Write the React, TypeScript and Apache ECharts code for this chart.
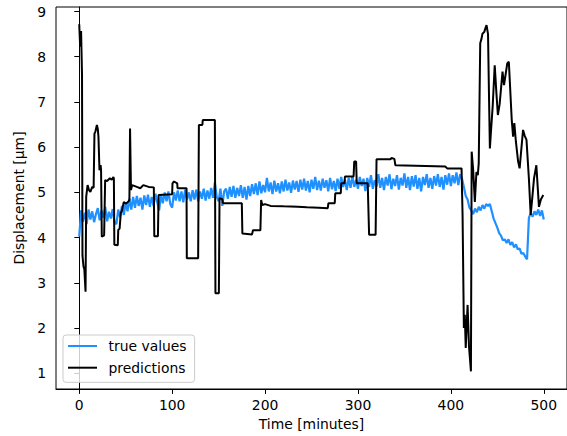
import React, { useEffect, useRef } from "react";
import * as echarts from "echarts";

// true values, sampled every 2 minutes from t = 0 to t = 500
const trueStep = 2;
const trueValues: number[] = [
  4.02, 4.6, 4.35, 4.55, 4.3, 4.62, 4.4, 4.58, 4.34, 4.52,
  4.65, 4.38, 4.6, 4.44, 4.68, 4.36, 4.57, 4.42, 4.63, 4.33,
  4.3, 4.62, 4.45, 4.7, 4.5, 4.78, 4.58, 4.86, 4.62, 4.9,
  4.66, 4.92, 4.7, 4.88, 4.62, 4.93, 4.72, 4.95, 4.68, 4.9,
  4.7, 4.97, 4.78, 4.6, 4.95, 4.76, 5.0, 4.8, 5.02, 4.74,
  4.66, 5.0, 4.82, 5.04, 4.8, 5.02, 4.78, 5.06, 4.84, 5.0,
  4.8, 5.05, 4.84, 5.06, 4.8, 5.02, 4.86, 5.08, 4.82, 5.04,
  4.86, 5.1, 4.88, 5.22, 4.9, 4.8, 5.08, 4.7, 5.02, 5.08,
  4.86, 5.12, 4.9, 5.14, 4.88, 5.1, 4.92, 5.16, 4.88, 5.12,
  4.84, 5.14, 4.92, 5.18, 4.96, 5.2, 4.94, 5.24, 4.98, 5.16,
  5.0, 5.32, 5.02, 5.22, 4.96, 5.26, 5.02, 5.2, 4.98, 5.24,
  5.02, 5.28, 5.04, 5.22, 4.99, 5.26, 5.06, 5.25, 5.01, 5.28,
  5.06, 5.3, 5.04, 5.25, 5.0, 5.28, 5.08, 5.34, 5.05, 5.26,
  5.04, 5.3, 5.1, 5.27, 5.02, 5.32, 5.07, 5.25, 5.03, 5.3,
  5.08, 5.34, 5.12, 5.28, 5.05, 5.32, 5.1, 5.36, 5.12, 5.28,
  5.08, 5.34, 5.14, 5.3, 5.03, 5.32, 5.12, 5.38, 5.08, 5.27,
  5.13, 5.4, 5.1, 5.32, 5.05, 5.34, 5.15, 5.4, 5.07, 5.3,
  5.14, 5.38, 5.06, 5.32, 5.15, 5.42, 5.1, 5.34, 5.05, 5.36,
  5.13, 5.38, 5.08, 5.32, 5.02, 5.34, 5.16, 5.4, 5.1, 5.32,
  5.08, 5.36, 5.15, 5.4, 5.12, 5.34, 5.06, 5.38, 5.17, 5.42,
  5.14, 5.38, 5.2, 5.44, 5.16, 5.4, 5.3, 5.12, 4.92, 4.84,
  4.66, 4.6, 4.52, 4.64, 4.56, 4.68, 4.6, 4.72, 4.64, 4.74,
  4.7, 4.74, 4.58, 4.42, 4.32, 4.22, 4.1, 4.04, 3.94, 3.96,
  3.88, 3.96, 3.84, 3.9, 3.78, 3.85, 3.74, 3.76, 3.64, 3.66,
  3.58, 3.52, 4.44, 4.54, 4.46, 4.58, 4.5, 4.62, 4.48, 4.6,
  4.4,
];

// predictions (time in minutes, value in µm)
const predTimes: number[] = [
  0, 1, 2, 3, 3.5, 4.6, 5.5, 6.8, 7.5, 9, 10.5, 12, 14, 15.5, 16.4, 17.5, 19, 20, 20.7, 21.8,
  23, 23.5, 24.3, 26.8, 27.9, 30, 33, 35, 36.8, 37.3, 37.8, 41.5, 42, 43.5, 44.7, 46, 48, 50, 51, 53,
  54, 54.7, 55.7, 57, 62, 65.7, 69, 74.7, 80.3, 80.8, 84.7, 85.4, 100, 100.4, 102, 105.5, 105.8, 115.5, 115.8, 128,
  128.8, 132.5, 133, 146, 146.6, 150.3, 151, 154, 154.7, 175, 175.6, 186, 187, 195, 195.8, 197, 200, 206, 220, 235,
  245, 258, 267.5, 268.2, 275, 275.6, 281.5, 282, 285.5, 286, 295.3, 296, 298, 298.7, 310.5, 312, 319, 320, 335, 336,
  339.2, 340.3, 394, 396, 411.5, 412.6, 414, 415, 416, 418, 419.5, 421.6, 422.4, 424, 425.8, 427.5, 429, 430, 431.6, 433,
  434, 436, 437, 438.4, 440, 441, 442, 443, 445, 447.2, 449, 450.6, 452.5, 455.6, 457.2, 460.7, 462.4, 465.5, 467, 468.3,
  470, 472.4, 474, 477.7, 479.5, 481.4, 484, 485.9, 487.5, 489.5, 492, 494.8, 497, 499.5,
];
const predValues: number[] = [
  8.72, 8.22, 8.57, 7.6, 3.6, 3.36, 3.3, 2.8, 4.9, 5.16, 5.05, 5.01, 5.12, 5.1, 6.3, 6.35, 6.49, 6.4, 6.23, 5.49,
  5.6, 5.5, 4.02, 4.05, 5.27, 5.25, 5.31, 5.28, 5.34, 5.3, 3.84, 3.83, 4.17, 4.2, 4.54, 4.6, 4.79, 4.75, 4.76, 4.8,
  4.83, 6.41, 5.05, 5.16, 5.12, 5.09, 5.16, 5.12, 5.11, 4.03, 4.03, 4.94, 4.96, 5.2, 5.24, 5.2, 5.09, 5.09, 3.54, 3.54,
  6.49, 6.49, 6.6, 6.6, 2.77, 2.77, 4.87, 4.85, 4.76, 4.76, 4.09, 4.07, 4.16, 4.16, 4.83, 4.72, 4.74, 4.7, 4.69, 4.68,
  4.67, 4.66, 4.65, 4.76, 4.76, 4.98, 4.98, 5.2, 5.2, 5.35, 5.35, 5.68, 5.68, 5.2, 5.2, 4.06, 4.06, 5.73, 5.73, 5.76,
  5.74, 5.6, 5.57, 5.53, 5.53, 4.5, 2.0, 2.29, 1.56, 2.51, 1.6, 1.04, 5.9, 5.5, 4.79, 5.45, 5.38, 5.64, 8.3, 8.4,
  8.51, 8.55, 8.62, 8.7, 8.5, 7.2, 5.97, 6.3, 6.9, 7.81, 7.2, 6.71, 6.95, 7.67, 7.37, 7.85, 7.89, 6.61, 6.23, 6.53,
  6.12, 5.68, 5.53, 6.38, 6.25, 6.16, 5.3, 4.5, 4.85, 5.31, 5.6, 4.68, 4.85, 4.94,
];

const xTicks = [0, 100, 200, 300, 400, 500];
const yTicks = [1, 2, 3, 4, 5, 6, 7, 8, 9];

const FONT = "DejaVu Sans";
const FS = 13.9;

export default function App() {
  const ref = useRef<HTMLDivElement>(null);
  useEffect(() => {
    if (!ref.current) return;
    const chart = echarts.init(ref.current, undefined, { renderer: "svg" });
    const trueData = trueValues.map((v, i) => [i * trueStep, v]);
    const predData = predTimes.map((t, i) => [t, predValues[i]]);
    chart.setOption({
      animation: false,
      backgroundColor: "#ffffff",
      textStyle: { fontFamily: FONT },
      grid: {
        left: 56,
        top: 7,
        right: -2,
        bottom: 47,
        show: true,
        borderColor: "#000",
        borderWidth: 1,
        backgroundColor: "transparent",
      },
      legend: {
        left: 63,
        top: 335,
        orient: "vertical",
        data: ["true values", "predictions"],
        icon: "rect",
        itemWidth: 29,
        itemHeight: 2,
        itemGap: 5.7,
        padding: [3, 8, 6.6, 5],
        backgroundColor: "rgba(255,255,255,0.8)",
        borderColor: "#cccccc",
        borderWidth: 1,
        borderRadius: 3,
        textStyle: {
          fontFamily: FONT,
          fontSize: FS,
          color: "#000",
          lineHeight: 16,
          padding: [0, 0, 0, 6.5],
        },
      },
      xAxis: {
        type: "value",
        min: -25,
        max: 525,
        name: "Time [minutes]",
        nameLocation: "middle",
        nameGap: 27,
        nameTextStyle: { fontFamily: FONT, fontSize: FS, color: "#000" },
        splitLine: { show: false },
        axisLine: { show: true, lineStyle: { color: "#000", width: 1 } },
        axisTick: {
          show: true,
          length: 4.9,
          inside: false,
          customValues: xTicks,
          lineStyle: { color: "#000", width: 1 },
        },
        axisLabel: {
          customValues: xTicks,
          margin: 9,
          fontFamily: FONT,
          fontSize: FS,
          color: "#000",
        },
      },
      yAxis: {
        type: "value",
        min: 0.65,
        max: 9.1,
        name: "Displacement [µm]",
        nameLocation: "middle",
        nameGap: 25,
        nameTextStyle: { fontFamily: FONT, fontSize: FS, color: "#000" },
        splitLine: { show: false },
        axisLine: { show: true, lineStyle: { color: "#000", width: 1 } },
        axisTick: {
          show: true,
          length: 4.9,
          inside: false,
          customValues: yTicks,
          lineStyle: { color: "#000", width: 1 },
        },
        axisLabel: {
          customValues: yTicks,
          margin: 10,
          fontFamily: FONT,
          fontSize: FS,
          color: "#000",
        },
      },
      series: [
        {
          name: "true values",
          type: "line",
          data: trueData,
          symbol: "none",
          color: "#1E90FF",
          lineStyle: { color: "#1E90FF", width: 2.2 },
          z: 2,
        },
        {
          name: "predictions",
          type: "line",
          data: predData,
          symbol: "none",
          color: "#000000",
          lineStyle: { color: "#000000", width: 2 },
          z: 3,
        },
      ],
    });
    return () => chart.dispose();
  }, []);
  return (
    <div
      ref={ref}
      style={{ position: "fixed", left: 0, top: 0, width: 567, height: 436 }}
    />
  );
}
